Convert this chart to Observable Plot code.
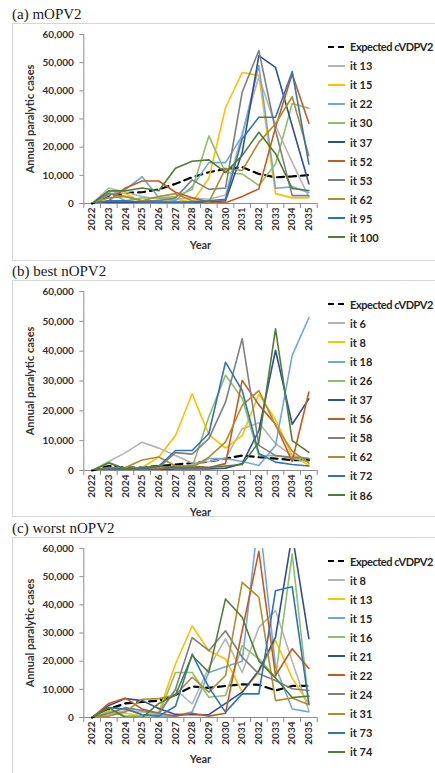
<!DOCTYPE html>
<html><head><meta charset="utf-8">
<script src="https://cdn.jsdelivr.net/npm/d3@7"></script>
<script src="https://cdn.jsdelivr.net/npm/@observablehq/plot@0.6"></script>
<style>
body{margin:0;background:#fff;}
#root{position:relative;width:435px;height:773px;overflow:hidden;font-family:Lato,sans-serif;}
.title{position:absolute;left:12px;font-family:"Liberation Serif",serif;font-size:15px;line-height:15px;color:#1a1a1a;white-space:nowrap;}
.box{position:absolute;left:12px;width:440px;border:1px solid #d6d6d6;box-sizing:border-box;}
.plot{position:absolute;left:0;}
.leg{position:absolute;left:328px;height:14px;display:flex;align-items:center;font:bold 11px Lato,sans-serif;color:#262626;white-space:nowrap;}
.leg svg{margin-right:5px;}
.leg.exp span{letter-spacing:-0.45px;}
</style></head>
<body><div id="root"></div>
<script>
// ---------- shared categories ----------
const years = [2022,2023,2024,2025,2026,2027,2028,2029,2030,2031,2032,2033,2034,2035];
const yTicks = [0,10000,20000,30000,40000,50000,60000];
const colors = ["#b4b4b4","#ffc000","#6fa8dc","#8cc168","#2f4f8f","#c65a1e","#7f7f7f","#b08d2a","#2e75b6","#4e7d35"];
const expectedName = "Expected cVDPV2";
const yLabel = "Annual paralytic cases";
const xLabel = "Year";

// ---------- (a) mOPV2 ----------
const namesA = ["it 13","it 15","it 22","it 30","it 37","it 52","it 53","it 62","it 95","it 100"];
const expA   = [0,2800,3700,4000,5000,7000,9300,11100,12300,12900,10500,9300,9600,10100];
const a_it13 = [0,5500,4000,2500,1500,1500,2000,1500,3000,25000,45000,27600,14600,2300];
const a_it15 = [0,4500,3500,500,500,1500,500,8900,34000,46500,45500,3500,2000,2000];
const a_it22 = [0,3000,5000,9500,2000,1000,6000,14500,14500,24000,49000,5400,5900,3900];
const a_it30 = [0,4000,1000,2000,2000,2500,5000,24000,11000,10500,6400,14000,35500,33800];
const a_it37 = [0,500,500,500,300,300,300,500,1000,18000,52500,48300,27500,7000];
const a_it52 = [0,1000,5500,8000,8000,4000,2000,500,300,2500,5200,27000,46000,28500];
const a_it53 = [0,3500,2500,1000,1000,2000,8400,5000,5500,39500,54300,26000,2800,2800];
const a_it62 = [0,2000,2500,1000,2500,3500,1000,500,12400,11700,21700,28300,37900,17000];
const a_it95 = [0,1000,1000,500,500,500,500,1000,1500,23000,30600,30600,46800,14000];
const a_it100= [0,4500,4500,5500,4500,12500,15000,15500,11000,17000,25300,17700,5300,4600];

// ---------- (b) best nOPV2 ----------
const namesB = ["it 6","it 8","it 18","it 26","it 37","it 56","it 58","it 62","it 72","it 86"];
const expB   = [0,1500,1000,1000,1500,2000,2500,3000,4000,5000,4500,4000,3500,3500];
const b_it6  = [0,3000,6000,9500,7500,5000,2500,3000,4000,14000,16000,9000,5000,4000];
const b_it8  = [0,500,500,1000,4500,11700,25700,12000,7500,11700,25500,17000,5000,1700];
const b_it18 = [0,500,500,500,500,1000,1500,4000,4000,3000,1700,8400,38600,51200];
const b_it26 = [0,2800,500,1000,1000,1500,1000,18000,31900,24200,5000,5000,4000,3000];
const b_it37 = [0,500,300,300,300,500,500,500,800,2300,13400,40300,15500,24000];
const b_it56 = [0,1000,1000,500,500,1500,1500,1000,2300,30200,22000,15500,3000,26300];
const b_it58 = [0,1000,500,500,1000,6000,5500,10700,22900,44200,8400,5000,4400,4000];
const b_it62 = [0,500,1000,3500,4500,1500,1000,4500,9500,21800,26800,15100,6500,2500];
const b_it72 = [0,500,500,500,1500,6700,6700,12400,36300,26800,5700,2800,2000,1500];
const b_it86 = [0,2500,500,1000,1500,1000,1000,1000,1500,2000,9500,47500,10000,6100];

// ---------- (c) worst nOPV2 ----------
const namesC = ["it 8","it 13","it 15","it 16","it 21","it 22","it 24","it 31","it 73","it 74"];
const expC   = [0,3000,5000,5500,6000,8000,11000,10500,11200,11800,11600,9600,11200,11200];
const c_it8  = [0,1000,2500,2000,1000,10000,4800,17700,27900,16000,32000,38000,20000,2400];
const c_it13 = [0,2500,1500,500,2000,19000,32500,23700,20800,9000,16000,27300,14000,4800];
const c_it15 = [0,1500,3500,1000,500,500,2000,16000,18000,20000,72000,18000,3000,2000];
const c_it16 = [0,2000,500,500,1000,16000,16000,7200,7800,25500,20800,14300,58000,4800];
const c_it21 = [0,4300,6700,6000,3200,1100,1000,1000,5000,9000,16700,28500,65000,28000];
const c_it22 = [0,5000,6900,3000,1500,500,1500,500,1500,30800,59000,14900,24400,17400];
const c_it24 = [0,1500,3500,2500,1500,10000,28400,23700,30800,21400,15500,13100,10200,9600];
const c_it31 = [0,500,2000,6500,6700,8000,14300,9000,14900,48000,42700,6000,6900,4500];
const c_it73 = [0,3500,3000,1000,500,4000,22500,10700,1900,8400,8400,45000,46400,4800];
const c_it74 = [0,3500,0,0,5000,8000,22000,16000,42100,35600,20000,14000,7100,7600];

const panels = [
  {title:"(a) mOPV2", titleTop:7.4, boxTop:22.5, boxH:238.5, svgTop:22, height:239, mt:12, mb:58, legTop:46.7,
   names:namesA, expected:expA, series:[a_it13,a_it15,a_it22,a_it30,a_it37,a_it52,a_it53,a_it62,a_it95,a_it100]},
  {title:"(b) best nOPV2", titleTop:264.4, boxTop:280, boxH:237, svgTop:280, height:237, mt:11, mb:47, legTop:304.3,
   names:namesB, expected:expB, series:[b_it6,b_it8,b_it18,b_it26,b_it37,b_it56,b_it58,b_it62,b_it72,b_it86]},
  {title:"(c) worst nOPV2", titleTop:520.7, boxTop:537, boxH:245, svgTop:537, height:236, mt:11, mb:56, legTop:561,
   names:namesC, expected:expC, series:[c_it8,c_it13,c_it15,c_it16,c_it21,c_it22,c_it24,c_it31,c_it73,c_it74]}
];

const root = document.getElementById("root");
const bounds = years.map(y => y - 0.5).concat([years[years.length-1] + 0.5]);
const axisGray = "#8c8c8c";

for (const p of panels) {
  const t = document.createElement("div");
  t.className = "title"; t.style.top = p.titleTop + "px"; t.textContent = p.title;
  root.appendChild(t);
  const box = document.createElement("div");
  box.className = "box"; box.style.top = p.boxTop + "px"; box.style.height = p.boxH + "px";
  root.appendChild(box);

  const data = p.series.flatMap((vals, i) => vals.map((v, j) => ({year: years[j], value: v, name: p.names[i]})));
  const exp = p.expected.map((v, j) => ({year: years[j], value: v}));

  const chart = Plot.plot({
    width: 435, height: p.height,
    marginLeft: 83.3, marginRight: 118.3, marginTop: p.mt, marginBottom: p.mb,
    style: {fontFamily: "Lato, sans-serif", fontSize: "10px", fontWeight: "bold", color: "#333", background: "transparent", overflow: "visible"},
    x: {domain: [bounds[0], bounds[bounds.length-1]]},
    y: {domain: [0, 60000]},
    color: {domain: p.names, range: colors},
    marks: [
      Plot.axisY({ticks: yTicks, tickFormat: d3.format(","), tickSize: 4, tickPadding: 6, stroke: axisGray, fill: "#333",
                  fontWeight: "bold", label: null}),
      Plot.axisY({ticks: [], tickSize: 0, label: yLabel, labelAnchor: "center", labelOffset: 58, labelArrow: "none",
                  fontSize: 11, fontWeight: "bold", fill: "#333"}),
      Plot.axisX({ticks: years, tickSize: 0, tickPadding: 4, tickRotate: -90, tickFormat: d => String(d), fill: "#333",
                  fontWeight: "bold", label: null}),
      Plot.axisX({ticks: bounds, tickSize: 5, tickFormat: () => "", stroke: axisGray,
                  label: xLabel, labelAnchor: "center", labelOffset: 45, labelArrow: "none",
                  fontSize: 11, fontWeight: "bold", fill: "#333"}),
      Plot.ruleX([bounds[0]], {stroke: axisGray}),
      Plot.ruleY([0], {stroke: axisGray}),
      Plot.line(exp, {x: "year", y: "value", stroke: "#000", strokeWidth: 2.2, strokeDasharray: "7,5"}),
      Plot.line(data, {x: "year", y: "value", z: "name", stroke: "name", strokeWidth: 1.6, clip: true})
    ]
  });
  chart.classList.add("plot");
  chart.style.top = p.svgTop + "px";
  root.appendChild(chart);

  const entries = [{name: expectedName, color: "#000", dash: true}].concat(p.names.map((n, i) => ({name: n, color: colors[i]})));
  entries.forEach((e, i) => {
    const row = document.createElement("div");
    row.className = "leg" + (e.dash ? " exp" : "");
    row.style.top = (p.legTop + i * 19.07 - 7) + "px";
    row.innerHTML = `<svg width="17" height="4"><line x1="0" x2="17" y1="2" y2="2" stroke="${e.color}" stroke-width="${e.dash ? 2.2 : 2}" ${e.dash ? 'stroke-dasharray="6,4"' : ''}/></svg><span>${e.name}</span>`;
    root.appendChild(row);
  });
}
</script>
</body></html>
